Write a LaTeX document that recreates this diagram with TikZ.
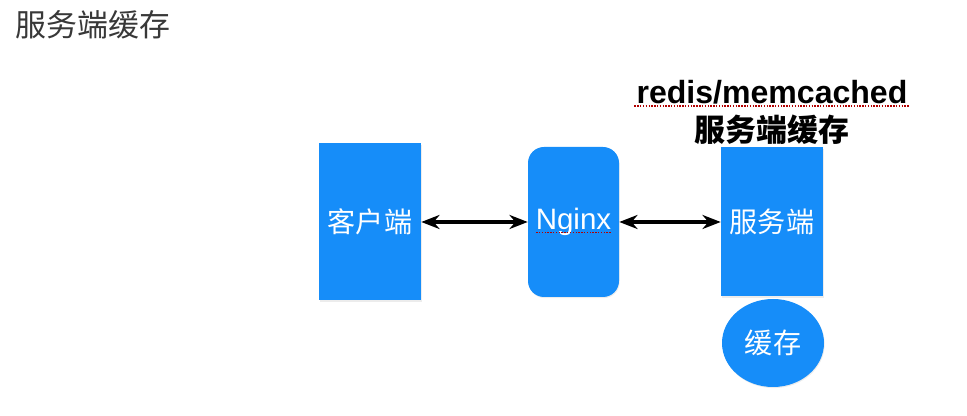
\documentclass[tikz,border=0pt]{standalone}
\usepackage{fontspec}
\setmainfont{Liberation Sans}
\newfontfamily\cjk{Noto Sans CJK SC}
\usetikzlibrary{arrows.meta, shapes.geometric, shadows}
\definecolor{boxBlue}{HTML}{168DF9}
\definecolor{titleGray}{gray}{0.22}

\begin{document}
\begin{tikzpicture}[scale=1.0,
    block/.style={fill=boxBlue, text=white, inner sep=0pt, font=\cjk\fontsize{20}{24}\selectfont,
        drop shadow={opacity=0.15, shadow xshift=0.5pt, shadow yshift=-0.8pt}},
    biarrow/.style={{Stealth[length=13pt, width=10pt]}-{Stealth[length=13pt, width=10pt]}, line width=3pt, draw=black},
    spell/.style={red!70!black, densely dotted, line width=1pt}]
    \useasboundingbox (0,0) rectangle (24.175,10.4);

    \node[titleGray, font=\cjk\fontsize{22}{26}\selectfont] (title) at (2.325,9.775) {服务端缓存};

    \node[block, minimum width=2.55cm, minimum height=3.925cm] (client) at (9.25,4.85) {客户端};
    \node[block, minimum width=2.275cm, minimum height=3.75cm, rounded corners=0.4cm,
        font=\fontsize{21}{24}\selectfont] (nginx) at (14.3375,4.85) {Nginx};
    \node[block, minimum width=2.55cm, minimum height=3.725cm] (server) at (19.3,4.85) {服务端};
    \node[block, ellipse, minimum width=2.55cm, minimum height=2.2cm] (cache) at (19.325,1.825) {缓存};

    \node[font=\bfseries\fontsize{22.8}{26}\selectfont] (redis) at (19.3,8.1) {redis/memcached};
    \node[font=\cjk\bfseries\fontsize{22}{26}\selectfont] (label) at (19.3,7.15) {服务端缓存};

    % spell-check underlines
    \draw[spell] ([xshift=2pt, yshift=-2pt]redis.base west) -- ([xshift=-2pt, yshift=-2pt]redis.base east);
    \draw[spell] ([xshift=6pt, yshift=-2pt]nginx.base west) -- ([xshift=-6pt, yshift=-2pt]nginx.base east);

    \draw[biarrow] (client) -- (nginx);
    \draw[biarrow] (nginx) -- (server);
\end{tikzpicture}
\end{document}
